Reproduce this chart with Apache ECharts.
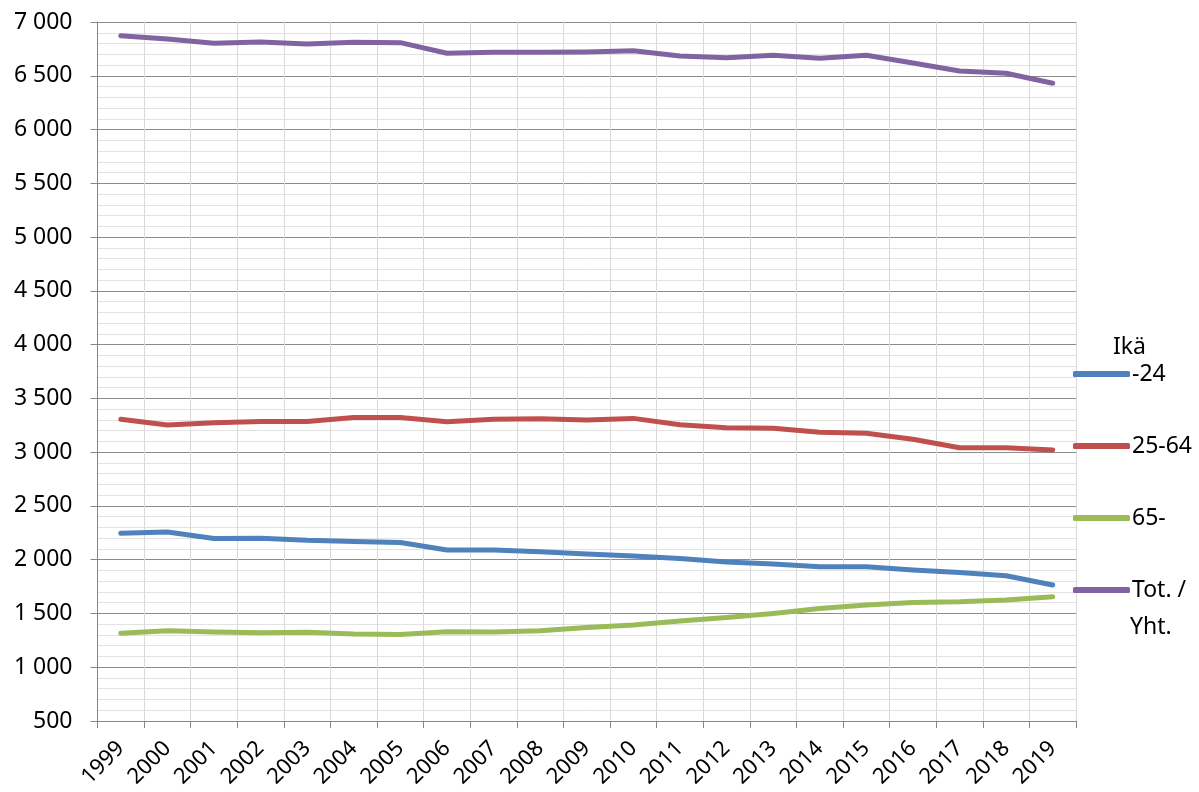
<!DOCTYPE html>
<html>
<head>
<meta charset="utf-8">
<script src="https://cdn.jsdelivr.net/npm/echarts@6/dist/echarts.min.js"></script>
<style>html,body{margin:0;padding:0;background:#fff}#c{width:1199px;height:792px}</style>
</head>
<body>
<div id="c"></div>
<script>
const years = ['1999','2000','2001','2002','2003','2004','2005','2006','2007','2008','2009','2010','2011','2012','2013','2014','2015','2016','2017','2018','2019'];
const seriesNames = ['-24','25-64','65-','Tot. / Yht.'];
const age24 = [2245,2257,2198,2200,2180,2170,2160,2090,2090,2074,2052,2034,2012,1978,1959,1935,1935,1904,1882,1851,1764];
const age2564 = [3306,3252,3274,3286,3286,3323,3323,3282,3305,3310,3298,3314,3254,3227,3222,3185,3175,3120,3041,3041,3020];
const age65 = [1315,1340,1327,1320,1325,1310,1305,1330,1327,1339,1370,1392,1430,1462,1500,1547,1578,1603,1609,1625,1656];
const total = [6873,6842,6802,6814,6796,6812,6808,6709,6718,6718,6721,6733,6684,6668,6690,6662,6690,6619,6544,6523,6430];
const colors = ['#4F81BD','#C0504D','#9BBB59','#8064A2'];
const legendTitle = 'Ikä';

const FONT = 'Noto Sans';
const chart = echarts.init(document.getElementById('c'), null, {renderer:'canvas'});
const mk = (name, data, color) => ({
  name, type:'line', data, symbol:'none', smooth:false,
  lineStyle:{width:5, color, cap:'round', join:'round'},
  itemStyle:{color}
});
chart.setOption({
  animation:false,
  color: colors,
  grid:{left:97.5, right:123, top:22, bottom:71, containLabel:false},
  xAxis:{
    type:'category', data:years, boundaryGap:true,
    axisLine:{lineStyle:{color:'#868686', width:1}},
    axisTick:{show:true, interval:0, length:7, lineStyle:{color:'#868686'}},
    axisLabel:{interval:0, rotate:45, margin:24, color:'#000', fontFamily:FONT, fontSize:22},
    splitLine:{show:true, interval:0, lineStyle:{color:'#d9d9d9', width:1}}
  },
  yAxis:{
    type:'value', min:500, max:7000, interval:500,
    axisLine:{show:true, lineStyle:{color:'#868686', width:1}},
    axisTick:{show:true, length:7, lineStyle:{color:'#868686'}},
    axisLabel:{margin:25, color:'#000', fontFamily:FONT, fontSize:23,
      formatter: v => String(v).replace(/\B(?=(\d{3})+(?!\d))/g, ' ')},
    splitLine:{show:true, lineStyle:{color:'#8c8c8c', width:1}},
    minorTick:{show:false, splitNumber:5},
    minorSplitLine:{show:true, lineStyle:{color:'#e3e3e3', width:1}}
  },
  legend:{
    orient:'vertical', left:1068, top:355,
    data: seriesNames,
    icon:'roundRect', itemWidth:57, itemHeight:6, itemGap:44,
    textStyle:{fontFamily:FONT, fontSize:23, color:'#000', lineHeight:28, padding:[0,0,0,-3]},
    formatter: n => n === 'Tot. / Yht.' ? 'Tot. /' : n
  },
  graphic:[
    {type:'text', left:1113, top:336, style:{text:legendTitle, font:'23px "Noto Sans"', fill:'#000'}},
    {type:'text', left:1130, top:616, style:{text:'Yht.', font:'23px "Noto Sans"', fill:'#000'}}
  ],
  series:[
    mk(seriesNames[0], age24, colors[0]),
    mk(seriesNames[1], age2564, colors[1]),
    mk(seriesNames[2], age65, colors[2]),
    mk(seriesNames[3], total, colors[3])
  ]
});
</script>
</body>
</html>
